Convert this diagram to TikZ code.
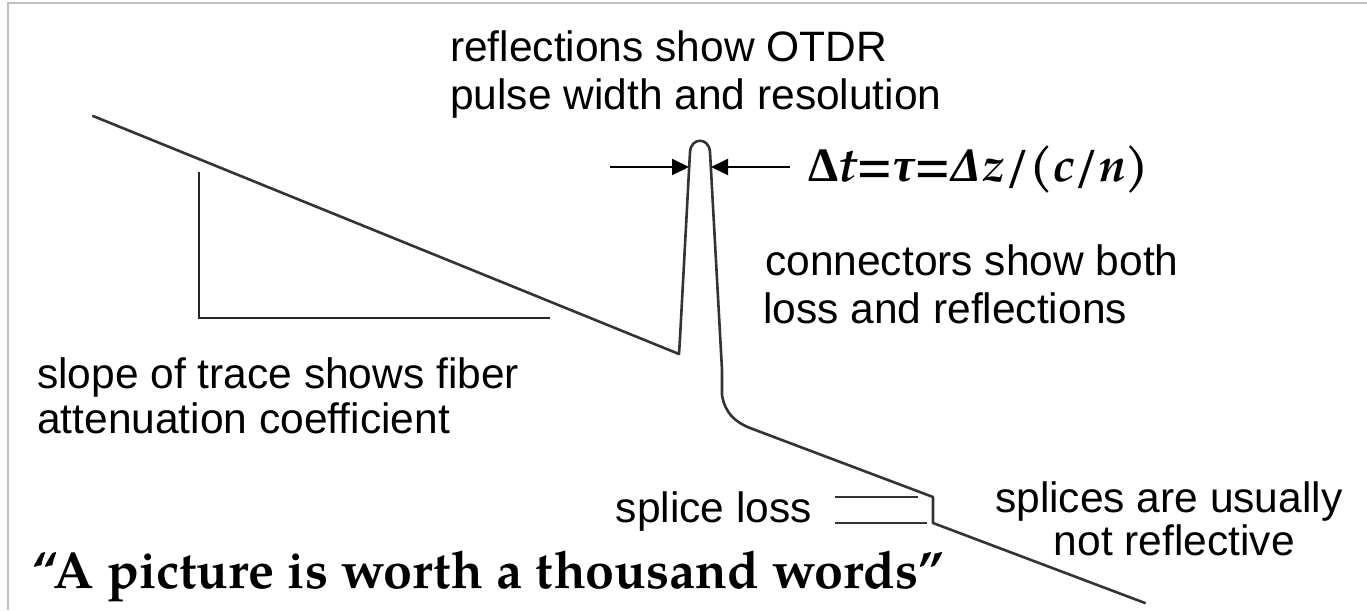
\documentclass[tikz,border=0pt]{standalone}
\usepackage{fontspec}
\setmainfont{Liberation Sans}
\newfontfamily\pal{texgyrepagella}[Extension=.otf, UprightFont=*-regular, BoldFont=*-bold, ItalicFont=*-italic, BoldItalicFont=*-bolditalic]
\newfontfamily\grk{Liberation Serif}
\usetikzlibrary{arrows.meta}

\begin{document}
\begin{tikzpicture}[x=1pt, y=-1pt,
  trace/.style={line width=2.6pt, draw=black!80, line join=round, line cap=round},
  guide/.style={line width=2.4pt, draw=black!85},
  pointer/.style={line width=2pt, draw=black, -{Triangle[length=17pt,width=16pt]}},
  frameline/.style={line width=1.5pt, draw=black!25},
  lbl/.style={inner sep=0pt, anchor=base west, font=\fontsize{42.5}{48}\selectfont},
  serifbig/.style={inner sep=0pt, anchor=base west, font=\pal\bfseries\fontsize{52}{60}\selectfont},
  formula/.style={inner sep=0pt, anchor=base west, font=\pal\bfseries\fontsize{48}{56}\selectfont}]

\useasboundingbox (0,0) rectangle (1367,610);
\fill[white] (0,0) rectangle (1367,610);

% frame edges
\draw[frameline] (8,610) -- (8,3) -- (1367,3);

% OTDR trace: fibre slope, connector reflection, fibre, splice, fibre
\coordinate (start) at (93,116);
\coordinate (conn) at (679,354);
\coordinate (pkL) at (690,152);
\coordinate (pkR) at (710,152);
\coordinate (drop) at (722,395);
\coordinate (knee) at (750,428);
\coordinate (spl1) at (933,497);
\coordinate (spl2) at (933,523);
\coordinate (stop) at (1145,603);
\draw[trace] (start) -- (conn) -- (680,338) -- (pkL)
  .. controls (691,137) and (709,137) .. (pkR)
  -- (722,370) -- (drop)
  .. controls (725,413) and (735,422) .. (knee)
  -- (spl1) -- (spl2) -- (stop);

% slope triangle
\coordinate (triTop) at (199,172);
\coordinate (triCorner) at (199,318);
\coordinate (triEnd) at (550,318);
\draw[guide] (triTop) -- (triCorner) -- (triEnd);

% pulse width pointers
\coordinate (arrLfrom) at (610,167);
\coordinate (arrLto) at (689,167);
\coordinate (arrRfrom) at (790,167);
\coordinate (arrRto) at (711,167);
\draw[pointer] (arrLfrom) -- (arrLto);
\draw[pointer] (arrRfrom) -- (arrRto);

% splice loss level marks
\coordinate (sA1) at (835,497);
\coordinate (sA2) at (918,497);
\coordinate (sB1) at (835,523);
\coordinate (sB2) at (927,523);
\draw[line width=2pt, draw=black!80] (sA1) -- (sA2);
\draw[line width=2pt, draw=black!80] (sB1) -- (sB2);

% annotations
\node[lbl] (refl1) at (450,62) {reflections show OTDR};
\node[lbl] (refl2) at (450,109) {pulse width and resolution};
\node[lbl] (conn1) at (765,275) {connectors show both};
\node[lbl] (conn2) at (763,323) {loss and reflections};
\node[lbl] (slope1) at (37,388) {slope of trace shows fiber};
\node[lbl] (slope2) at (37,433) {attenuation coefficient};
\node[lbl, anchor=base east] (splloss) at (812,522) {splice loss};
\node[lbl] (spl1txt) at (995,512) {splices are usually};
\node[lbl, anchor=base east] (spl2txt) at (1295,555) {not reflective};

\node[formula] (eq) at (808,181)
  {{\grk Δ}{\itshape t}={\grk\itshape τ}={\grk\itshape Δ}{\itshape z}/({\itshape c}/{\itshape n})};

\node[serifbig] (quote) at (32,588) {“A picture is worth a thousand words”};
\end{tikzpicture}
\end{document}
